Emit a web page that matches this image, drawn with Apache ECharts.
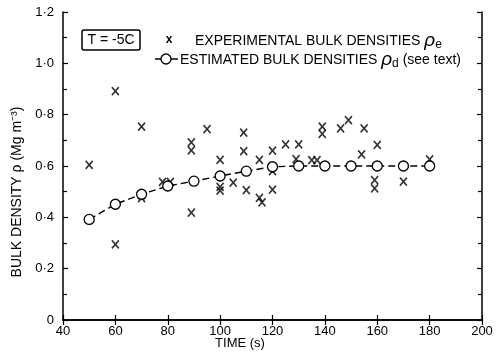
<!DOCTYPE html>
<html>
<head>
<meta charset="utf-8">
<script src="https://cdn.jsdelivr.net/npm/echarts@6/dist/echarts.min.js"></script>
<style>
html, body { margin: 0; padding: 0; background: #fff; }
#main { width: 497px; height: 361px; }
</style>
</head>
<body>
<div id="main"></div>
<script>
// experimental bulk densities (crosses)
var expTime    = [50, 60, 60, 70, 70, 70, 78, 81, 89, 89, 89, 95, 100, 100, 100, 105, 109, 109, 110, 115, 115, 116, 120, 120, 120, 125, 130, 129, 135, 137, 139, 139, 146, 149, 155, 154, 160, 159, 159, 170, 180];
var expDensity = [0.604, 0.892, 0.295, 0.753, 0.487, 0.475, 0.538, 0.538, 0.692, 0.661, 0.418, 0.744, 0.624, 0.519, 0.504, 0.535, 0.73, 0.658, 0.506, 0.624, 0.476, 0.458, 0.66, 0.58, 0.508, 0.684, 0.684, 0.627, 0.623, 0.623, 0.753, 0.725, 0.747, 0.779, 0.747, 0.645, 0.682, 0.545, 0.513, 0.539, 0.626];
// estimated bulk densities (circles + dashed line)
var estTime    = [50, 60, 70, 80, 90, 100, 110, 120, 130, 140, 150, 160, 170, 180];
var estDensity = [0.392, 0.451, 0.49, 0.522, 0.541, 0.561, 0.58, 0.597, 0.6, 0.6, 0.6, 0.6, 0.6, 0.6];

var font = 'Liberation Sans, Arial, sans-serif';
var myChart = echarts.init(document.getElementById('main'));

var expData = [];
for (var i = 0; i < expTime.length; i++) expData.push([expTime[i], expDensity[i]]);
var estData = [];
for (var j = 0; j < estTime.length; j++) estData.push([estTime[j], estDensity[j]]);

function yLabel(v) {
    if (v === 0) return '0';
    return v.toFixed(1).replace('.', '\u00b7');
}

var axisBase = {
    axisLine: { show: true, lineStyle: { color: '#000', width: 1.5 } },
    axisTick: { show: true, inside: true, length: 5, lineStyle: { color: '#000', width: 1.2 } },
    splitLine: { show: false }
};

var option = {
    animation: false,
    backgroundColor: '#fff',
    grid: { left: 63, right: 15, top: 12, bottom: 41 },
    xAxis: [
        Object.assign({
            type: 'value', min: 40, max: 200, interval: 20, position: 'bottom',
            axisLabel: { color: '#000', fontSize: 13, fontFamily: font, margin: 5 }
        }, axisBase),
        Object.assign({
            type: 'value', min: 40, max: 200, interval: 20, position: 'top',
            axisLabel: { show: false }
        }, axisBase)
    ],
    yAxis: [
        Object.assign({
            type: 'value', min: 0, max: 1.2, interval: 0.2, position: 'left',
            minorTick: { show: true, splitNumber: 2, length: 4, lineStyle: { color: '#000', width: 1.2 } },
            axisLabel: { color: '#000', fontSize: 13, fontFamily: font, margin: 9, formatter: yLabel }
        }, axisBase),
        Object.assign({
            type: 'value', min: 0, max: 1.2, interval: 0.2, position: 'right',
            minorTick: { show: true, splitNumber: 2, length: 4, lineStyle: { color: '#000', width: 1.2 } },
            axisLabel: { show: false }
        }, axisBase)
    ],
    series: [
        {
            name: 'EXPERIMENTAL',
            type: 'scatter',
            data: expData,
            symbol: 'path://M0,0L10,10M10,0L0,10',
            symbolSize: [7, 8],
            itemStyle: { color: 'none', borderColor: '#000', borderWidth: 1.7 },
            z: 3
        },
        {
            name: 'ESTIMATED',
            type: 'line',
            data: estData,
            symbol: 'circle',
            symbolSize: 10,
            showSymbol: true,
            itemStyle: { color: '#fff', borderColor: '#000', borderWidth: 1.3 },
            lineStyle: { color: '#000', width: 1.4, type: [7, 4] },
            z: 4
        }
    ],
    graphic: [
        { type: 'rect', shape: { x: 82, y: 30, width: 58, height: 20, r: 2 },
          style: { fill: 'none', stroke: '#000', lineWidth: 1.5 } },
        { type: 'text', x: 111, y: 40,
          style: { text: 'T = -5C', font: '14px ' + font, fill: '#000', align: 'center', verticalAlign: 'middle' } },
        { type: 'text', x: 169, y: 40,
          style: { text: 'x', font: 'bold 12px ' + font, fill: '#000', align: 'center', verticalAlign: 'middle' } },
        { type: 'line', shape: { x1: 155, y1: 59, x2: 178, y2: 59 },
          style: { stroke: '#000', lineWidth: 1.5 } },
        { type: 'circle', shape: { cx: 166, cy: 59, r: 5 },
          style: { fill: '#fff', stroke: '#000', lineWidth: 1.3 } },
        { type: 'text', x: 195, y: 41,
          style: {
            text: '{a|EXPERIMENTAL BULK DENSITIES }{r|\u03c1}{s|e}',
            verticalAlign: 'middle',
            rich: {
                a: { fontSize: 14, fontFamily: font, color: '#000' },
                r: { fontSize: 19, fontStyle: 'italic', fontFamily: font, color: '#000' },
                s: { fontSize: 12, fontFamily: font, color: '#000', padding: [7, 0, 0, 0] }
            }
          } },
        { type: 'text', x: 180, y: 60,
          style: {
            text: '{a|ESTIMATED BULK DENSITIES }{r|\u03c1}{s|d}{a| (see text)}',
            verticalAlign: 'middle',
            rich: {
                a: { fontSize: 14, fontFamily: font, color: '#000' },
                r: { fontSize: 19, fontStyle: 'italic', fontFamily: font, color: '#000' },
                s: { fontSize: 12, fontFamily: font, color: '#000', padding: [7, 0, 0, 0] }
            }
          } },
        { type: 'text', x: 240, y: 343,
          style: { text: 'TIME (s)', font: '13px ' + font, fill: '#000', align: 'center', verticalAlign: 'middle' } },
        { type: 'text', x: 17, y: 192, rotation: Math.PI / 2,
          style: { text: 'BULK DENSITY \u03c1 (Mg m\u207b\u00b3)', font: '14px ' + font, fill: '#000', align: 'center', verticalAlign: 'middle' } }
    ]
};

myChart.setOption(option);
</script>
</body>
</html>
